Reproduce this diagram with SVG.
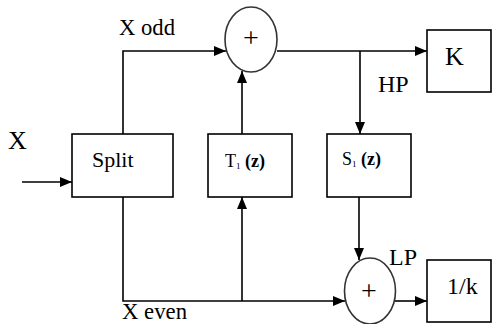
<svg xmlns="http://www.w3.org/2000/svg" width="494" height="324" viewBox="0 0 494 324">
<defs>
<marker id="arr" markerUnits="userSpaceOnUse" markerWidth="12" markerHeight="10" refX="12" refY="5" orient="auto">
<path d="M0,0 L12,5 L0,10 z" fill="#000"/>
</marker>
<style>
.box{fill:#fff;stroke:#000;stroke-width:1.6}
.sum{fill:#fff;stroke:#333;stroke-width:1.6}
.ln{fill:none;stroke:#000;stroke-width:1.6}
.t{font-family:"Liberation Serif","Times New Roman",serif;fill:#000}
</style>
</defs>
<rect width="494" height="324" fill="#fff"/>
<g id="connectors">
<path class="ln" d="M22,182 H72" marker-end="url(#arr)"/>
<path class="ln" d="M123,134 V51 H226" marker-end="url(#arr)"/>
<path class="ln" d="M277,51 H427" marker-end="url(#arr)"/>
<path class="ln" d="M360,51 V134" marker-end="url(#arr)"/>
<path class="ln" d="M242,134 V71" marker-end="url(#arr)"/>
<path class="ln" d="M123,197 V301 H345" marker-end="url(#arr)"/>
<path class="ln" d="M242,301 V197" marker-end="url(#arr)"/>
<path class="ln" d="M359,197 V260" marker-end="url(#arr)"/>
<path class="ln" d="M395,301 H427" marker-end="url(#arr)"/>
</g>
<g id="split">
<rect class="box" x="72" y="134" width="101" height="63"/>
<text class="t" x="92" y="167" font-size="22">Split</text>
</g>
<g id="t1">
<rect class="box" x="208" y="134" width="84" height="63"/>
<text class="t" x="225" y="167" font-size="18">T<tspan font-size="9" dy="2">1</tspan><tspan dy="-2" font-weight="bold"> (z)</tspan></text>
</g>
<g id="s1">
<rect class="box" x="327" y="134" width="84" height="63"/>
<text class="t" x="342" y="165" font-size="18">S<tspan font-size="9" dy="2">1</tspan><tspan dy="-2" font-weight="bold"> (z)</tspan></text>
</g>
<g id="sum-top">
<ellipse class="sum" cx="251" cy="39.5" rx="26" ry="32.5"/>
<text class="t" x="251" y="47" font-size="28" text-anchor="middle">+</text>
</g>
<g id="sum-bottom">
<ellipse class="sum" cx="370" cy="291" rx="25.5" ry="33"/>
<text class="t" x="369" y="300" font-size="28" text-anchor="middle">+</text>
</g>
<g id="k">
<rect class="box" x="427" y="30" width="64" height="62"/>
<text class="t" x="445" y="65" font-size="26">K</text>
</g>
<g id="invk">
<rect class="box" x="427" y="260" width="64" height="62"/>
<text class="t" x="447" y="294" font-size="24">1/k</text>
</g>
<g id="labels">
<text class="t" x="8" y="149" font-size="26">X</text>
<text class="t" x="119" y="35" font-size="24" textLength="56" lengthAdjust="spacingAndGlyphs">X odd</text>
<text class="t" x="122" y="319" font-size="23" textLength="65" lengthAdjust="spacingAndGlyphs">X even</text>
<text class="t" x="378" y="92" font-size="24">HP</text>
<text class="t" x="389" y="265" font-size="24">LP</text>
</g>
</svg>
